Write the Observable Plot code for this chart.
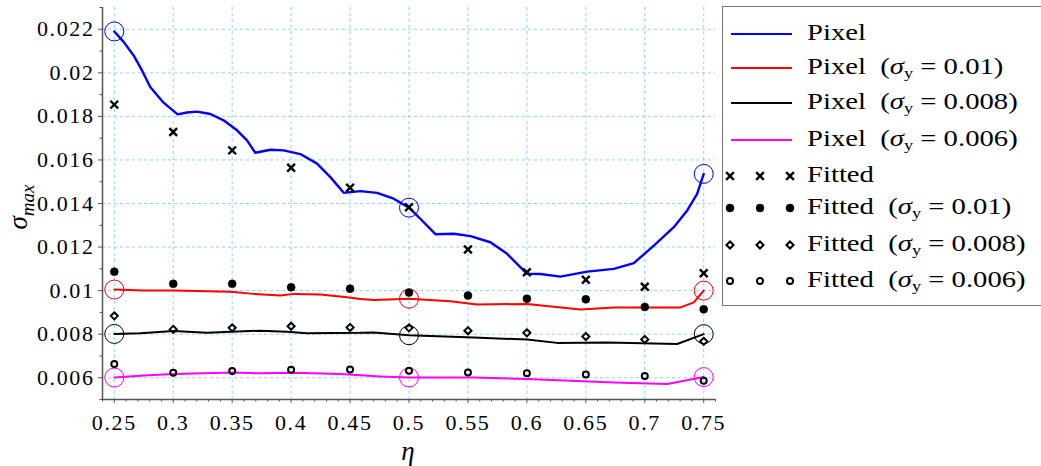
<!DOCTYPE html>
<html>
<head>
<meta charset="utf-8">
<script src="https://cdn.jsdelivr.net/npm/d3@7"></script>
<script src="https://cdn.jsdelivr.net/npm/@observablehq/plot@0.6"></script>
<style>
  html, body { margin: 0; padding: 0; background: #fff; }
  #wrap { position: relative; width: 1041px; height: 466px; font-family: "Liberation Serif", serif; }
  #wrap svg text { letter-spacing: 1.6px; }
  #legend { position: absolute; left: 722px; top: 6px; width: 340px; height: 300px;
            border: 1.5px solid #777; background: #fff; box-sizing: border-box; }
  .row { position: absolute; left: 0; height: 36px; display: flex; align-items: center; white-space: pre; font-size: 23.5px; }
  .row svg { flex: none; }
  .row span.t { margin-left: 10px; display: inline-block; transform: scaleX(1.22); transform-origin: left center; }
  sub { font-size: 15px; vertical-align: -4px; line-height: 0; }
  #ylab { position: absolute; left: 18px; top: 207px; transform: translate(-50%, -50%) rotate(-90deg);
          font-size: 27px; font-style: italic; white-space: nowrap; }
  #xlab { position: absolute; left: 408px; top: 451px; transform: translate(-50%, -50%);
          font-size: 27px; line-height: 14px; font-style: italic; }
</style>
</head>
<body>
<div id="wrap"></div>
<script>
// Pixel curves: (eta, sigma_max) samples
const bluePixelEta = [0.25, 0.2579, 0.2664, 0.2735, 0.2805, 0.2918, 0.3037, 0.3117, 0.3202, 0.3315, 0.3427, 0.3541, 0.3626, 0.3696, 0.3824, 0.3937, 0.4078, 0.422, 0.4333, 0.4446, 0.4587, 0.4729, 0.487, 0.5, 0.5096, 0.5224, 0.538, 0.5522, 0.569, 0.5832, 0.6001, 0.6115, 0.6284, 0.6511, 0.6737, 0.6907, 0.7077, 0.7246, 0.736, 0.7444, 0.75];
const bluePixelSigma = [0.0219, 0.02142, 0.0208, 0.02011, 0.01935, 0.01863, 0.01809, 0.01818, 0.01822, 0.01811, 0.01782, 0.01736, 0.0169, 0.01633, 0.01647, 0.01644, 0.01627, 0.01583, 0.01521, 0.01449, 0.01457, 0.01449, 0.01422, 0.01381, 0.0133, 0.01259, 0.01261, 0.0125, 0.01222, 0.01169, 0.01077, 0.01076, 0.01064, 0.01087, 0.011, 0.01126, 0.01207, 0.01291, 0.01368, 0.01444, 0.01536];

const redPixelEta = [0.25, 0.2749, 0.3003, 0.3484, 0.3682, 0.3908, 0.4021, 0.4248, 0.4474, 0.4587, 0.470, 0.5, 0.535, 0.5577, 0.6001, 0.6454, 0.6737, 0.6992, 0.7303, 0.7416, 0.75];
const redPixelSigma = [0.01005, 0.01, 0.01, 0.00995, 0.00985, 0.00978, 0.00985, 0.00982, 0.0097, 0.00962, 0.00957, 0.00963, 0.00951, 0.00936, 0.00939, 0.00913, 0.00923, 0.00923, 0.00923, 0.00946, 0.01];

const blackPixelEta = [0.25, 0.2721, 0.3003, 0.3286, 0.3739, 0.3965, 0.4135, 0.4587, 0.470, 0.5, 0.5549, 0.6001, 0.6256, 0.6681, 0.7275, 0.75];
const blackPixelSigma = [0.00801, 0.00804, 0.00815, 0.00806, 0.00816, 0.00811, 0.00804, 0.00806, 0.00808, 0.00795, 0.00785, 0.00775, 0.0076, 0.00762, 0.00755, 0.008];

const magentaPixelEta = [0.25, 0.2749, 0.3003, 0.3512, 0.3739, 0.4021, 0.4418, 0.4757, 0.5, 0.5549, 0.6001, 0.6737, 0.719, 0.75];
const magentaPixelSigma = [0.00601, 0.0061, 0.00617, 0.00624, 0.0062, 0.00623, 0.00617, 0.00606, 0.00601, 0.00601, 0.00594, 0.00578, 0.00571, 0.00603];

// Fitted values at each eta
const fittedEta = [0.25, 0.3, 0.35, 0.4, 0.45, 0.5, 0.55, 0.6, 0.65, 0.7, 0.75];
const fittedFree = [0.01854, 0.01728, 0.01644, 0.01564, 0.01472, 0.01383, 0.01189, 0.01084, 0.0105, 0.01018, 0.0108];
const fitted010 = [0.01087, 0.01031, 0.01031, 0.01015, 0.01009, 0.00991, 0.00977, 0.00963, 0.0096, 0.00925, 0.00914];
const fitted008 = [0.00884, 0.00822, 0.00829, 0.00836, 0.00831, 0.00829, 0.00816, 0.00806, 0.00789, 0.00776, 0.00767];
const fitted006 = [0.00663, 0.00623, 0.00631, 0.00637, 0.00638, 0.00632, 0.00624, 0.0062, 0.00615, 0.00608, 0.00586];

// Axis ticks
const xTicks = [0.25, 0.3, 0.35, 0.4, 0.45, 0.5, 0.55, 0.6, 0.65, 0.7, 0.75];
const yTicks = [0.006, 0.008, 0.01, 0.012, 0.014, 0.016, 0.018, 0.02, 0.022];
const markedEta = [0.25, 0.5, 0.75];

// Legend entries
const pixelLabels = ["Pixel", "Pixel  (σ_y = 0.01)", "Pixel  (σ_y = 0.008)", "Pixel  (σ_y = 0.006)"];
const fittedLabels = ["Fitted", "Fitted  (σ_y = 0.01)", "Fitted  (σ_y = 0.008)", "Fitted  (σ_y = 0.006)"];
const pixelColors = ["#0000ff", "#ff0000", "#000000", "#ff00ff"];

const zip = (xs, ys) => xs.map((x, i) => ({x, y: ys[i]}));
const pixelSeries = [
  {pts: zip(bluePixelEta, bluePixelSigma), color: pixelColors[0], w: 2.4},
  {pts: zip(redPixelEta, redPixelSigma), color: pixelColors[1], w: 2},
  {pts: zip(blackPixelEta, blackPixelSigma), color: pixelColors[2], w: 2},
  {pts: zip(magentaPixelEta, magentaPixelSigma), color: pixelColors[3], w: 2}
];
const fittedStyles = [
  {symbol: "times", r: 3.6, fill: "none", stroke: "#000", sw: 2.4},
  {symbol: "circle", r: 4, fill: "#000", stroke: "#000", sw: 0.5},
  {symbol: "diamond2", r: 3.2, fill: "none", stroke: "#000", sw: 2},
  {symbol: "circle", r: 3, fill: "none", stroke: "#000", sw: 2}
];
const fittedSeries = [fittedFree, fitted010, fitted008, fitted006].map(v => zip(fittedEta, v));

const minorX = d3.range(24, 77).map(k => k / 100).filter(v => !xTicks.some(t => Math.abs(t - v) < 1e-9));
const minorY = d3.range(5, 24).map(k => k / 1000).filter(v => !yTicks.some(t => Math.abs(t - v) < 1e-9));

const gridStyle = {stroke: "#8fd3ff", strokeOpacity: 1, strokeWidth: 1, strokeDasharray: "3,3"};
const axisColor = "#555";

const chart = Plot.plot({
  width: 1041,
  height: 466,
  marginLeft: 102,
  marginRight: 326,
  marginTop: 7,
  marginBottom: 67,
  x: {domain: [0.24, 0.76]},
  y: {domain: [0.005, 0.023]},
  style: {fontFamily: "'Liberation Serif', serif", fontSize: "22px", background: "transparent", color: "#000"},
  marks: [
    Plot.gridX(xTicks, gridStyle),
    Plot.gridY(yTicks, gridStyle),
    ...pixelSeries.map(s => Plot.line(s.pts, {x: "x", y: "y", stroke: s.color, strokeWidth: s.w})),
    ...pixelSeries.map(s => Plot.dot(s.pts.filter(p => markedEta.includes(p.x)),
      {x: "x", y: "y", r: 9.5, stroke: s.color, fill: "none", strokeWidth: 1})),
    ...fittedSeries.map((pts, i) => Plot.dot(pts, {
      x: "x", y: "y", symbol: fittedStyles[i].symbol, r: fittedStyles[i].r,
      fill: fittedStyles[i].fill, stroke: fittedStyles[i].stroke, strokeWidth: fittedStyles[i].sw
    })),
    Plot.ruleX([0.24], {stroke: axisColor, strokeWidth: 1.5}),
    Plot.ruleY([0.005], {stroke: axisColor, strokeWidth: 1.5}),
    Plot.axisX(xTicks, {tickSize: 4, tickPadding: 11, stroke: axisColor, tickFormat: d => String(d), fontSize: 22, label: null}),
    Plot.axisX(minorX, {tickSize: 2.5, stroke: axisColor, text: null, label: null}),
    Plot.axisY(yTicks, {tickSize: 4, tickPadding: 4, stroke: axisColor, tickFormat: d => String(d), fontSize: 22, label: null}),
    Plot.axisY(minorY, {tickSize: 2.5, stroke: axisColor, text: null, label: null})
  ]
});

const wrap = document.getElementById("wrap");
wrap.appendChild(chart);

// axis titles
const ylab = document.createElement("div");
ylab.id = "ylab";
ylab.innerHTML = "σ<sub style='font-size:19px;vertical-align:-7px'>max</sub>";
wrap.appendChild(ylab);
const xlab = document.createElement("div");
xlab.id = "xlab";
xlab.textContent = "η";
wrap.appendChild(xlab);

// legend
const legend = document.createElement("div");
legend.id = "legend";
wrap.appendChild(legend);
const fmt = s => s.replace("σ_y", "<i>σ</i><sub>y</sub>");
const rowCenters = [25, 59, 94, 131, 167, 199, 236, 272];
function addRow(i, swatch, label) {
  const row = document.createElement("div");
  row.className = "row";
  row.style.top = (rowCenters[i] - 18) + "px";
  row.appendChild(swatch);
  const t = document.createElement("span");
  t.className = "t";
  t.innerHTML = fmt(label);
  row.appendChild(t);
  legend.appendChild(row);
}
pixelLabels.forEach((lab, i) => {
  const svg = d3.create("svg").attr("width", 74).attr("height", 36);
  svg.append("line").attr("x1", 8).attr("x2", 69).attr("y1", 20).attr("y2", 20)
    .attr("stroke", pixelColors[i]).attr("stroke-width", 2.2);
  addRow(i, svg.node(), lab);
});
const d3sym = {times: d3.symbolTimes, circle: d3.symbolCircle, diamond2: d3.symbolDiamond2};
fittedLabels.forEach((lab, i) => {
  const st = fittedStyles[i];
  const svg = d3.create("svg").attr("width", 74).attr("height", 36);
  const path = d3.symbol(d3sym[st.symbol], st.r * st.r * Math.PI)();
  [7, 37, 67].forEach(cx => svg.append("path").attr("d", path)
    .attr("transform", `translate(${cx},20)`)
    .attr("fill", st.fill).attr("stroke", st.stroke).attr("stroke-width", st.sw));
  addRow(4 + i, svg.node(), lab);
});
</script>
</body>
</html>
